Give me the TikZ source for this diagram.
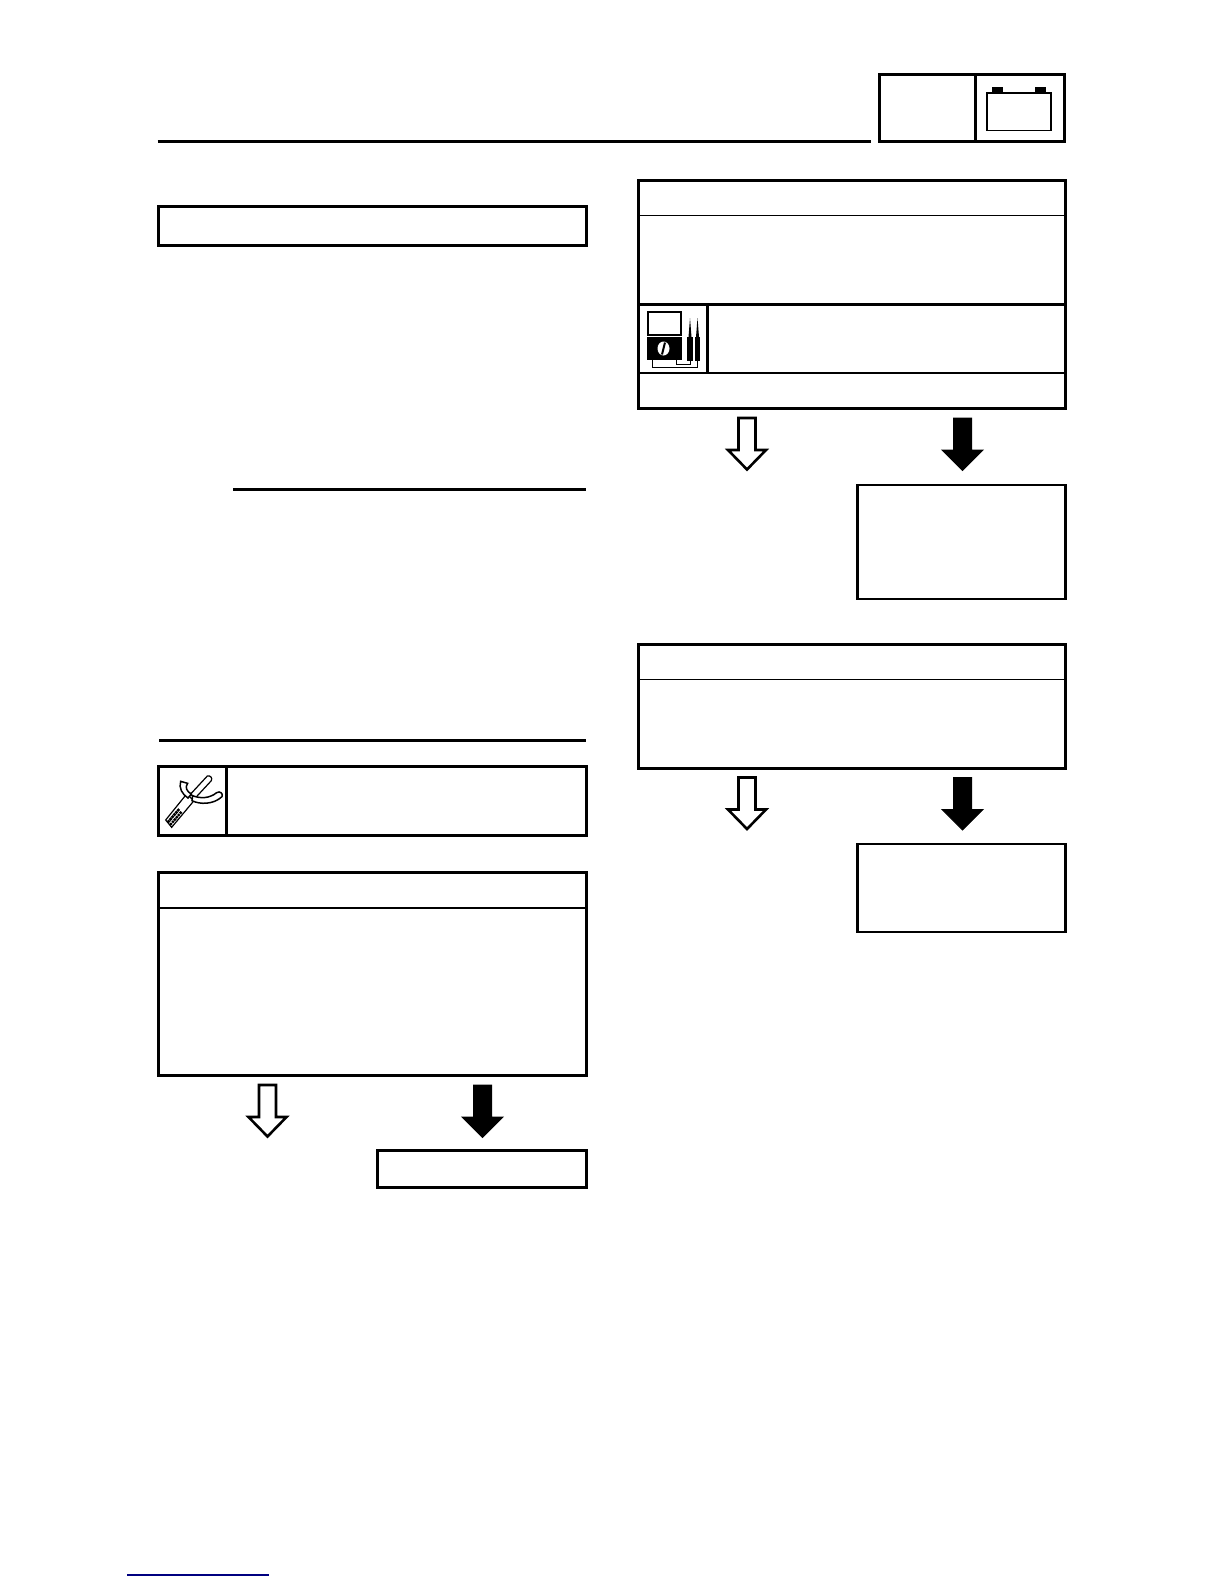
\documentclass[tikz,border=0pt]{standalone}
\usetikzlibrary{calc}

\tikzset{
    thickbox/.style={draw=black, line width=3pt, fill=white},
    thinrule/.style={draw=black, line width=1.3pt},
    hollowarrow/.style={draw=black, line width=2.6pt, fill=white, miter limit=10},
    solidarrow/.style={draw=black, line width=1pt, fill=black, miter limit=10}
}

\begin{document}
\begin{tikzpicture}[x=1pt, y=-1pt]

\useasboundingbox (0,0) rectangle (1224,1584);

% Header rule and tab
\draw[line width=3pt] (157.5,141.5) -- (870.5,141.5);
\draw[thickbox] (879,74.5) rectangle (1064,141.5);
\draw[line width=3pt] (975,74.5) -- (975,141.5);

% Battery symbol
\draw[line width=1.9pt] (987,93) rectangle (1051,130.5);
\foreach \x in {992,1035}
{
    \fill (\x,87) rectangle ++(11,6);
}

% Left column, plain boxes
\draw[thickbox] (158.5,206) rectangle (586,245.5);
\draw[line width=3pt] (233,489) -- (586,489);
\draw[line width=3pt] (159,740) -- (586,740);

% Left column, tool box
\draw[thickbox] (158.5,766.5) rectangle (586,835);
\draw[line width=3pt] (226.5,766.5) -- (226.5,835);

% Left column, check box
\draw[thickbox] (158.5,872.5) rectangle (586,1075.5);
\draw[thinrule] (158.5,908) -- (586,908);
\draw[thickbox] (377,1150.5) rectangle (586,1187.5);

% Right column, first check box
\draw[thickbox] (638,180) rectangle (1065.5,408);
\draw[thinrule] (638,215.5) -- (1065.5,215.5);
\draw[line width=3pt] (638,304) -- (1065.5,304);
\draw[line width=2pt] (638,372.5) -- (1065.5,372.5);
\draw[line width=3pt] (707,304) -- (707,372.5);
\draw[line width=2.8pt] (857.5,485) rectangle (1065.5,599);

% Right column, second check box
\draw[thickbox] (638,644) rectangle (1065.5,768.5);
\draw[thinrule] (638,679.5) -- (1065.5,679.5);
\draw[line width=2.8pt] (857.5,844) rectangle (1065.5,932);

% Open arrows
\foreach \x/\y in {267.5/1085, 747/418, 747/777.5}
{
    \draw[hollowarrow] (\x-8.5,\y) -- ++(17,0) -- ++(0,32) -- ++(10.5,0)
        -- ++(-19,19.5) -- ++(-19,-19.5) -- ++(10.5,0) -- cycle;
}

% Solid arrows
\foreach \x/\y in {482.5/1085, 962.5/418, 962.5/777.5}
{
    \draw[solidarrow] (\x-9,\y) -- ++(18,0) -- ++(0,32) -- ++(11.5,0)
        -- ++(-20.5,20.5) -- ++(-20.5,-20.5) -- ++(11.5,0) -- cycle;
}

% Meter symbol
\draw[line width=2.4pt] (648,312) rectangle (681,335);
\fill (647,336.5) rectangle (681.5,359.5);
\fill[white] (663.5,348.5) ellipse (6 and 7);
\draw[line width=2pt] (662,354.5) -- (665,342.5);
\foreach \x in {690,697.5}
{
    \fill (\x-2.8,336.5) rectangle (\x+2.8,361);
    \fill (\x-1.5,337) -- (\x,318) -- (\x+1.5,337) -- cycle;
}
\draw[line width=0.8pt] (652.5,360) -- (652.5,367.5) -- (697.5,367.5) -- (697.5,361);
\draw[line width=0.8pt] (676.5,360) -- (676.5,364) -- (690,364) -- (690,361);

% Wrench symbol
\begin{scope}[shift={(150,750)}, x=0.3333pt, y=-0.3333pt]
    \draw[line width=1.2pt, fill=white] (47,210) -- (65,232) -- (132,152) -- (110,132) -- cycle;
    \foreach \t in {0,0.1,...,0.6}
    {
        \fill ($(56,214)!\t!(114,146)$) circle (5.5);
        \fill ($(63,222)!\t!(121,154)$) circle (5);
    }
    \draw[line width=1.2pt, fill=white] (122,132) -- (172,78) .. controls (182,76) and (188,84) .. (184,92) -- (134,146) -- cycle;
    \draw[line width=1.5pt, fill=white] (92,94) -- (113,100) .. controls (104,112) and (110,124) .. (124,132)
        -- (114,144) .. controls (96,132) and (86,114) .. (92,94) -- cycle;
    \draw[line width=1.5pt, fill=white] (128,137) .. controls (150,146) and (178,146) .. (200,128)
        .. controls (210,122) and (220,130) .. (216,140) .. controls (190,164) and (150,164) .. (126,152) -- cycle;
\end{scope}

% Footer rule
\draw[line width=1.4pt, color=blue!50!black] (127,1575) -- (269,1575);

\end{tikzpicture}
\end{document}
